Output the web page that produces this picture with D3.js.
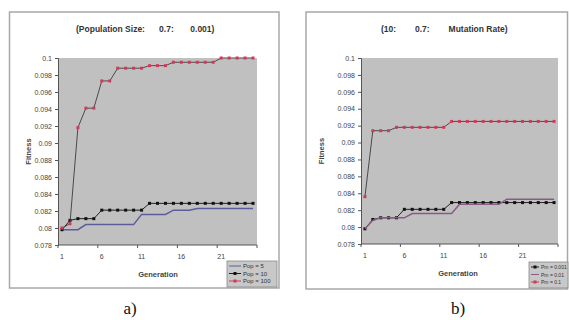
<!DOCTYPE html>
<html>
<head>
<meta charset="utf-8">
<script src="https://cdn.jsdelivr.net/npm/d3@7"></script>
<style>
  body { margin: 0; background: #fff; }
  svg { display: block; }
  text { font-family: "Liberation Sans", Arial, sans-serif; }
</style>
</head>
<body>
<svg id="chart" width="569" height="320"></svg>
<script>
// generations 1..25
var generations = d3.range(1, 26);
var xTickLabels = [1, 6, 11, 16, 21];
var yTicks = [0.078, 0.08, 0.082, 0.084, 0.086, 0.088, 0.09, 0.092, 0.094, 0.096, 0.098, 0.1];

// panel a) population size
var pop5 = [0.0798, 0.0798, 0.0798, 0.0804, 0.0804, 0.0804, 0.0804, 0.0804, 0.0804, 0.0804,
            0.0816, 0.0816, 0.0816, 0.0816, 0.0821, 0.0821, 0.0821, 0.0823, 0.0823, 0.0823,
            0.0823, 0.0823, 0.0823, 0.0823, 0.0823];
var pop10 = [0.0798, 0.0809, 0.0811, 0.0811, 0.0811, 0.0821, 0.0821, 0.0821, 0.0821, 0.0821,
             0.0821, 0.0829, 0.0829, 0.0829, 0.0829, 0.0829, 0.0829, 0.0829, 0.0829, 0.0829,
             0.0829, 0.0829, 0.0829, 0.0829, 0.0829];
var pop100 = [0.0800, 0.0805, 0.0918, 0.0941, 0.0941, 0.0973, 0.0973, 0.0988, 0.0988, 0.0988,
              0.0988, 0.0991, 0.0991, 0.0991, 0.0995, 0.0995, 0.0995, 0.0995, 0.0995, 0.0995,
              0.1, 0.1, 0.1, 0.1, 0.1];

// panel b) mutation rate
var pmA = [0.0798, 0.0809, 0.0811, 0.0811, 0.0811, 0.0821, 0.0821, 0.0821, 0.0821, 0.0821,
           0.0821, 0.0829, 0.0829, 0.0829, 0.0829, 0.0829, 0.0829, 0.0829, 0.0829, 0.0829,
           0.0829, 0.0829, 0.0829, 0.0829, 0.0829];
var pmB = [0.0798, 0.0808, 0.0811, 0.0811, 0.0811, 0.0811, 0.0816, 0.0816, 0.0816, 0.0816,
           0.0816, 0.0816, 0.0827, 0.0827, 0.0827, 0.0827, 0.0827, 0.0827, 0.0833, 0.0833,
           0.0833, 0.0833, 0.0833, 0.0833, 0.0833];
var pmC = [0.0836, 0.0914, 0.0914, 0.0914, 0.0918, 0.0918, 0.0918, 0.0918, 0.0918, 0.0918,
           0.0918, 0.0925, 0.0925, 0.0925, 0.0925, 0.0925, 0.0925, 0.0925, 0.0925, 0.0925,
           0.0925, 0.0925, 0.0925, 0.0925, 0.0925];

var svg = d3.select("#chart");

function drawPanel(opt) {
    var g = svg.append("g");
    // chart area frame
    g.append("rect").attr("x", opt.frame[0]).attr("y", opt.frame[1])
        .attr("width", opt.frame[2] - opt.frame[0]).attr("height", opt.frame[3] - opt.frame[1])
        .attr("fill", "#fff").attr("stroke", "#a8a8a8").attr("stroke-width", 1.5);

    var x = d3.scaleBand().domain(generations).range([opt.left, opt.right]);
    var y = d3.scaleLinear().domain([0.078, 0.1]).range([opt.bottom, opt.top]);

    g.append("rect").attr("x", opt.left).attr("y", opt.top)
        .attr("width", opt.right - opt.left).attr("height", opt.bottom - opt.top)
        .attr("fill", "#c0c0c0");

    // y axis
    var yAxis = d3.axisLeft(y).tickValues(yTicks).tickSize(3).tickPadding(3)
        .tickFormat(function (d) { return String(+d.toFixed(3)); });
    var ya = g.append("g").attr("transform", "translate(" + opt.left + ",0)").call(yAxis);
    ya.select(".domain").attr("stroke", "#555");
    ya.selectAll(".tick line").attr("stroke", "#555");
    ya.selectAll("text").attr("font-size", 7).attr("fill", "#444")
        .style("font-family", "Liberation Sans, Arial, sans-serif");

    // x axis: ticks on category boundaries, labels on every 5th category
    var xa = g.append("g").attr("transform", "translate(0," + opt.bottom + ")");
    xa.append("line").attr("x1", opt.left).attr("x2", opt.right)
        .attr("stroke", "#555");
    [0, 5, 10, 15, 20, 25].forEach(function (k) {
        var px = opt.left + k * x.step();
        xa.append("line").attr("x1", px).attr("x2", px).attr("y1", 0).attr("y2", 3)
            .attr("stroke", "#555");
    });
    xTickLabels.forEach(function (d) {
        xa.append("text").attr("x", x(d) + x.bandwidth() / 2).attr("y", 14)
            .attr("text-anchor", "middle").attr("font-size", 7).attr("fill", "#444").text(d);
    });

    // titles
    g.append("text").attr("x", opt.titleX).attr("y", 32).attr("font-size", 8.5)
        .attr("font-weight", "bold").attr("fill", "#333").attr("xml:space", "preserve")
        .text(opt.title);
    g.append("text").attr("x", opt.genX).attr("y", opt.bottom + 32).attr("font-size", 7.5)
        .attr("font-weight", "bold").attr("fill", "#444").attr("text-anchor", "middle")
        .text("Generation");
    g.append("text").attr("transform", "translate(" + opt.fitX + "," + ((opt.top + opt.bottom) / 2) + ") rotate(-90)")
        .attr("font-size", 7.5).attr("font-weight", "bold").attr("fill", "#444")
        .attr("text-anchor", "middle").text("Fitness");

    var line = d3.line()
        .x(function (d, i) { return x(generations[i]) + x.bandwidth() / 2; })
        .y(function (d) { return y(d); });

    opt.series.forEach(function (s) {
        g.append("path").datum(s.values).attr("d", line).attr("fill", "none")
            .attr("stroke", s.line).attr("stroke-width", s.width);
        if (s.marker) {
            g.selectAll(null).data(s.values).enter().append("rect")
                .attr("x", function (d, i) { return x(generations[i]) + x.bandwidth() / 2 - 1.5; })
                .attr("y", function (d) { return y(d) - 1.5; })
                .attr("width", 3).attr("height", 3).attr("fill", s.marker);
        }
    });

    // legend
    var L = opt.legend;
    var lg = g.append("g").attr("transform", "translate(" + L.x + "," + L.y + ")");
    lg.append("rect").attr("width", L.w).attr("height", 26).attr("fill", "#c8c8c8")
        .attr("stroke", "#888").attr("stroke-width", 0.8);
    opt.series.forEach(function (s, i) {
        var ly = 5 + i * 7.5;
        lg.append("line").attr("x1", 2).attr("x2", L.sw).attr("y1", ly).attr("y2", ly)
            .attr("stroke", s.legendLine || s.line).attr("stroke-width", 1);
        if (s.marker) {
            lg.append("rect").attr("x", L.sw / 2 - 0.5).attr("y", ly - 1.5).attr("width", 3).attr("height", 3)
                .attr("fill", s.marker);
        }
        lg.append("text").attr("x", L.sw + 2).attr("y", ly + 2).attr("font-size", L.fs)
            .attr("fill", "#333").text(s.name);
    });

    svg.append("text").attr("x", opt.capX).attr("y", 314).attr("text-anchor", "middle")
        .attr("font-size", 17).style("font-family", "Liberation Serif, Times New Roman, serif")
        .attr("fill", "#111").text(opt.caption);
}

drawPanel({
    frame: [9.5, 12, 279, 288], left: 58, right: 257, top: 58, bottom: 245,
    title: "(Population Size:      0.7:       0.001)", titleX: 76, genX: 158, fitX: 31,
    legend: { x: 227, y: 261, w: 50, sw: 14, fs: 6 }, caption: "a)", capX: 130,
    series: [
        { name: "Pop = 5", values: pop5, line: "#5c5c9c", width: 1.5 },
        { name: "Pop = 10", values: pop10, line: "#222", width: 1, marker: "#111" },
        { name: "Pop = 100", values: pop100, line: "#4a4a4a", width: 1, marker: "#d03a5a", legendLine: "#d03a5a" }
    ]
});

drawPanel({
    frame: [306, 12, 567.5, 289], left: 361, right: 558, top: 58, bottom: 244,
    title: "(10:        0.7:        Mutation Rate)", titleX: 381, genX: 458, fitX: 324,
    legend: { x: 529, y: 262, w: 39, sw: 10, fs: 5 }, caption: "b)", capX: 458,
    series: [
        { name: "Pm = 0.001", values: pmA, line: "#222", width: 1, marker: "#111" },
        { name: "Pm = 0.01", values: pmB, line: "#8a5a86", width: 1.5 },
        { name: "Pm = 0.1", values: pmC, line: "#4a4a4a", width: 1, marker: "#d03a5a", legendLine: "#d03a5a" }
    ]
});
</script>
</body>
</html>
